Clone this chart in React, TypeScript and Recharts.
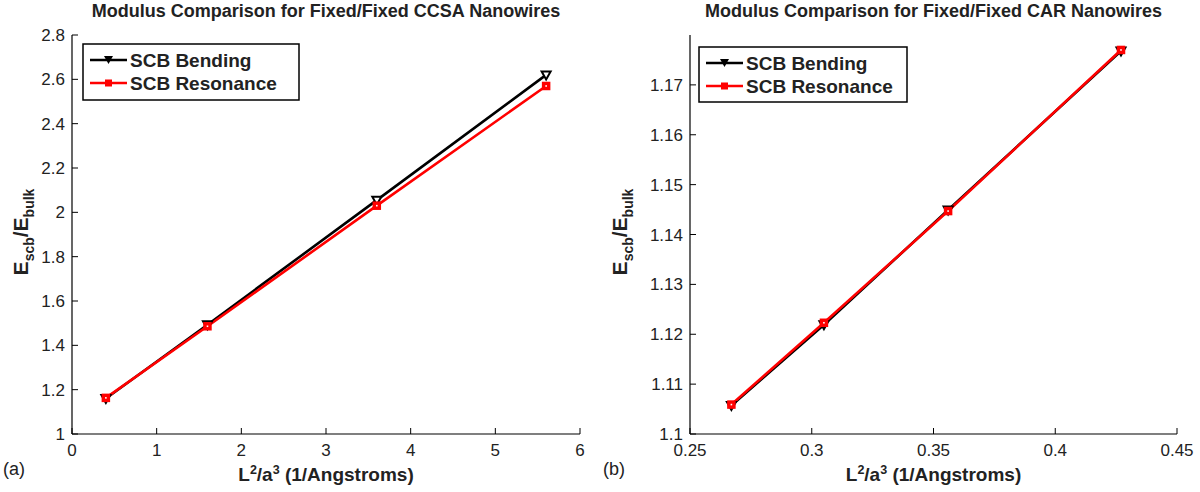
import { Line, LineChart, XAxis, YAxis } from "recharts";

// panel (a): CCSA
const ccsaX = [0.4, 1.6, 3.6, 5.6];
const ccsaBending = [1.16, 1.493, 2.055, 2.62];
const ccsaResonance = [1.163, 1.486, 2.03, 2.57];
const ccsaXTicks = [0, 1, 2, 3, 4, 5, 6];
const ccsaYTicks = [1, 1.2, 1.4, 1.6, 1.8, 2, 2.2, 2.4, 2.6, 2.8];

// panel (b): CAR
const carX = [0.267, 0.305, 0.356, 0.427];
const carBending = [1.1057, 1.1219, 1.1449, 1.1768];
const carResonance = [1.1059, 1.1223, 1.1447, 1.177];
const carXTicks = [0.25, 0.3, 0.35, 0.4, 0.45];
const carYTicks = [1.1, 1.11, 1.12, 1.13, 1.14, 1.15, 1.16, 1.17];

const FONT = "'Liberation Sans', Arial, Helvetica, sans-serif";

const toPoints = (xs: number[], ys: number[]) => xs.map((x, i) => ({ x, y: ys[i] }));

const TriangleDot = (props: any) => {
  const { cx, cy } = props;
  if (cx == null || cy == null) return <g />;
  return (
    <path
      d={`M${cx - 4.5},${cy - 3.5} L${cx + 4.5},${cy - 3.5} L${cx},${cy + 4.5} Z`}
      fill="#fff"
      stroke="#000"
      strokeWidth={2}
    />
  );
};

const SquareDot = (props: any) => {
  const { cx, cy } = props;
  if (cx == null || cy == null) return <g />;
  return (
    <g>
      <rect x={cx - 3.5} y={cy - 3.5} width={7} height={7} fill="#ff0000" stroke="#ff0000" strokeWidth={1.5} />
      <rect x={cx - 0.8} y={cy - 0.8} width={1.6} height={1.6} fill="#fff" />
    </g>
  );
};

const noTick = () => <g />;

type PanelProps = {
  xs: number[];
  bending: number[];
  resonance: number[];
  xDomain: [number, number];
  yDomain: [number, number];
  xTicks: number[];
  yTicks: number[];
  yAxisWidth: number;
  marginRight: number;
};

function Panel({ xs, bending, resonance, xDomain, yDomain, xTicks, yTicks, yAxisWidth, marginRight }: PanelProps) {
  const tickStyle = { fill: "#222", fontSize: 17, fontFamily: FONT };
  return (
    <LineChart width={600} height={492} margin={{ top: 35, right: marginRight, bottom: 0, left: 0 }}>
      <XAxis
        xAxisId="b"
        type="number"
        dataKey="x"
        domain={xDomain}
        ticks={xTicks}
        height={58}
        tickSize={-6}
        tickMargin={16}
        tick={tickStyle}
        axisLine={{ stroke: "#000", strokeWidth: 1.2 }}
        tickLine={{ stroke: "#000" }}
        interval={0}
      />
      <XAxis
        xAxisId="t"
        orientation="top"
        type="number"
        dataKey="x"
        domain={xDomain}
        ticks={xTicks}
        height={0}
        tickSize={-6}
        tick={noTick}
        axisLine={{ stroke: "#000", strokeWidth: 1.2 }}
        tickLine={{ stroke: "#000" }}
        interval={0}
      />
      <YAxis
        yAxisId="l"
        type="number"
        domain={yDomain}
        ticks={yTicks}
        width={yAxisWidth}
        tickSize={-6}
        tickMargin={13}
        tick={tickStyle}
        axisLine={{ stroke: "#000", strokeWidth: 1.2 }}
        tickLine={{ stroke: "#000" }}
        interval={0}
      />
      <YAxis
        yAxisId="r"
        orientation="right"
        type="number"
        domain={yDomain}
        ticks={yTicks}
        width={0}
        tickSize={-6}
        tick={noTick}
        axisLine={{ stroke: "#000", strokeWidth: 1.2 }}
        tickLine={{ stroke: "#000" }}
        interval={0}
      />
      <Line
        xAxisId="b"
        yAxisId="l"
        data={toPoints(xs, bending)}
        dataKey="y"
        stroke="#000"
        strokeWidth={2.6}
        dot={<TriangleDot />}
        isAnimationActive={false}
      />
      <Line
        xAxisId="b"
        yAxisId="l"
        data={toPoints(xs, resonance)}
        dataKey="y"
        stroke="#ff0000"
        strokeWidth={2.6}
        dot={<SquareDot />}
        isAnimationActive={false}
      />
    </LineChart>
  );
}

function Legend({ left, top, width, height }: { left: number; top: number; width: number; height: number }) {
  return (
    <svg style={{ position: "absolute", left, top }} width={width + 2} height={height + 2}>
      <rect x={1} y={1} width={width} height={height} fill="#fff" stroke="#000" strokeWidth={1.5} />
      <line x1={8} x2={45} y1={17} y2={17} stroke="#000" strokeWidth={2.5} />
      <path d="M22,13 L31,13 L26.5,21 Z" fill="#000" />
      <text x={48} y={24} fontFamily={FONT} fontWeight="bold" fontSize={19} fill="#222">
        SCB Bending
      </text>
      <line x1={8} x2={45} y1={40} y2={40} stroke="#ff0000" strokeWidth={2.5} />
      <rect x={23} y={36.5} width={7} height={7} fill="#ff0000" />
      <text x={48} y={47} fontFamily={FONT} fontWeight="bold" fontSize={19} fill="#222">
        SCB Resonance
      </text>
    </svg>
  );
}

function Labels({ offset, plotLeft, plotRight, title, tag }: { offset: number; plotLeft: number; plotRight: number; title: string; tag: string }) {
  const cx = (plotLeft + plotRight) / 2;
  return (
    <svg style={{ position: "absolute", left: offset, top: 0 }} width={600} height={492}>
      <text x={cx} y={17} textAnchor="middle" fontFamily={FONT} fontWeight="bold" fontSize={18} fill="#222">
        {title}
      </text>
      <text x={cx} y={481} textAnchor="middle" fontFamily={FONT} fontWeight="bold" fontSize={19} fill="#222">
        L<tspan dy={-7} fontSize={12.5}>2</tspan>
        <tspan dy={7}>/a</tspan>
        <tspan dy={-7} fontSize={12.5}>3</tspan>
        <tspan dy={7}> (1/Angstroms)</tspan>
      </text>
      <text
        transform={`translate(${plotLeft - (offset ? 63 : 44)}, 232) rotate(-90)`}
        textAnchor="middle"
        fontFamily={FONT}
        fontWeight="bold"
        fontSize={21}
        fill="#222"
      >
        E<tspan dy={6} fontSize={14}>scb</tspan>
        <tspan dy={-6}>/E</tspan>
        <tspan dy={6} fontSize={14}>bulk</tspan>
      </text>
      <text x={3} y={475} fontFamily={FONT} fontSize={18} fill="#222">
        {tag}
      </text>
    </svg>
  );
}

export default function App() {
  return (
    <div style={{ position: "absolute", left: 0, top: 0, width: 1200, height: 492, background: "#fff" }}>
      <div style={{ position: "absolute", left: 0, top: 0 }}>
        <Panel
          xs={ccsaX}
          bending={ccsaBending}
          resonance={ccsaResonance}
          xDomain={[0, 6]}
          yDomain={[1, 2.8]}
          xTicks={ccsaXTicks}
          yTicks={ccsaYTicks}
          yAxisWidth={72}
          marginRight={20}
        />
      </div>
      <div style={{ position: "absolute", left: 600, top: 0 }}>
        <Panel
          xs={carX}
          bending={carBending}
          resonance={carResonance}
          xDomain={[0.25, 0.45]}
          yDomain={[1.1, 1.18]}
          xTicks={carXTicks}
          yTicks={carYTicks}
          yAxisWidth={90}
          marginRight={23}
        />
      </div>
      <Labels offset={0} plotLeft={72} plotRight={580} title="Modulus Comparison for Fixed/Fixed CCSA Nanowires" tag="(a)" />
      <Labels offset={600} plotLeft={90} plotRight={577} title="Modulus Comparison for Fixed/Fixed CAR Nanowires" tag="(b)" />
      <Legend left={82} top={43} width={216} height={56} />
      <Legend left={698} top={46} width={208} height={55} />
    </div>
  );
}
